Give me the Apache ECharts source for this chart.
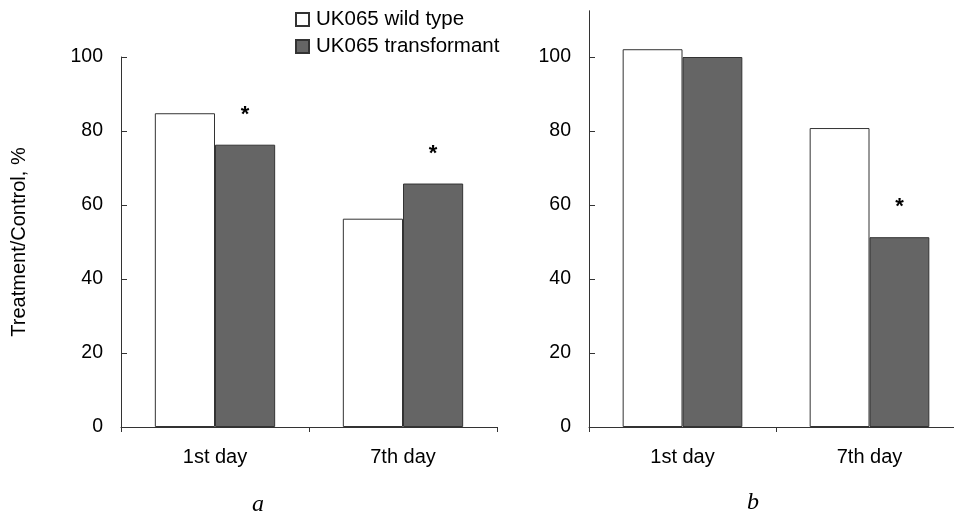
<!DOCTYPE html>
<html><head><meta charset="utf-8">
<script src="https://cdn.jsdelivr.net/npm/echarts@6/dist/echarts.min.js"></script>
<style>html,body{margin:0;padding:0;background:#fff}#c{width:954px;height:515px}</style>
</head><body><div id="c"></div>
<script>
var categories = ['1st day', '7th day'];
var seriesNames = ['UK065 wild type', 'UK065 transformant'];
var wildA = [84.8, 56.3];
var transA = [76.3, 65.8];
var wildB = [102.1, 80.8];
var transB = [100, 51.3];
var sigA = [true, true];
var sigB = [false, true];
var yTicks = [0, 20, 40, 60, 80, 100];
var panelLetters = ['a', 'b'];

var FONT = 'Liberation Sans, Arial, sans-serif';
var AXC = '#333';
var TXT = '#000';

function withStars(vals, sig) {
  return vals.map(function (v, i) {
    return sig[i] ? { value: v, label: { show: true } } : v;
  });
}

function xAxis(idx) {
  return {
    type: 'category', gridIndex: idx, data: categories,
    axisLine: { lineStyle: { color: AXC, width: 1 } },
    axisTick: { show: true, length: 5, inside: false, lineStyle: { color: AXC } },
    axisLabel: { color: TXT, fontSize: 20, fontFamily: FONT, margin: 20 }
  };
}
function yAxis(idx, max, name) {
  var ax = {
    type: 'value', gridIndex: idx, min: 0, max: max, interval: 20,
    splitLine: { show: false },
    axisLine: { show: true, lineStyle: { color: AXC, width: 1 } },
    axisTick: { show: true, inside: true, length: 6, lineStyle: { color: AXC }, customValues: yTicks },
    axisLabel: { color: TXT, fontSize: 19.5, fontFamily: FONT, margin: 18, customValues: yTicks }
  };
  if (name) {
    ax.name = name; ax.nameLocation = 'middle'; ax.nameRotate = 90; ax.nameGap = 92;
    ax.nameTextStyle = { color: TXT, fontSize: 20, fontFamily: FONT };
  }
  return ax;
}
var wildStyle = { color: '#ffffff', borderColor: '#333', borderWidth: 1 };
var transStyle = { color: '#656565', borderColor: '#333', borderWidth: 1 };
var starLabel = { show: false, position: 'top', distance: 19, formatter: '*', color: TXT, fontSize: 22, fontWeight: 'bold', fontFamily: FONT };

function bar(name, xi, data, style) {
  return {
    name: name, type: 'bar', xAxisIndex: xi, yAxisIndex: xi, data: data,
    barGap: '0%', barCategoryGap: '36%', itemStyle: style, label: starLabel,
    emphasis: { disabled: true }, animation: false
  };
}

var chart = echarts.init(document.getElementById('c'), null, { renderer: 'canvas' });
chart.setOption({
  animation: false,
  backgroundColor: '#fff',
  legend: {
    orient: 'vertical', left: 290, top: 4, itemWidth: 13, itemHeight: 13, itemGap: 6,
    icon: 'rect',
    data: seriesNames,
    textStyle: { color: TXT, fontSize: 20.5, fontFamily: FONT, padding: [0, 0, 0, 2] },
    selectedMode: false
  },
  grid: [
    { left: 121, top: 57, width: 376, height: 370, outerBoundsMode: 'none', containLabel: false },
    { left: 589, top: 427 - 112.5 * 3.7, width: 374, height: 112.5 * 3.7, outerBoundsMode: 'none', containLabel: false }
  ],
  xAxis: [xAxis(0), xAxis(1)],
  yAxis: [yAxis(0, 100, 'Treatment/Control, %'), yAxis(1, 112.5)],
  series: [
    bar(seriesNames[0], 0, wildA, wildStyle),
    bar(seriesNames[1], 0, withStars(transA, sigA), transStyle),
    bar(seriesNames[0], 1, wildB, wildStyle),
    bar(seriesNames[1], 1, withStars(transB, sigB), transStyle)
  ],
  graphic: [
    { type: 'text', left: 252, top: 493, style: { text: panelLetters[0], font: 'italic 24px "Liberation Serif", serif', fill: TXT } },
    { type: 'text', left: 747, top: 491, style: { text: panelLetters[1], font: 'italic 24px "Liberation Serif", serif', fill: TXT } }
  ]
});
</script></body></html>
